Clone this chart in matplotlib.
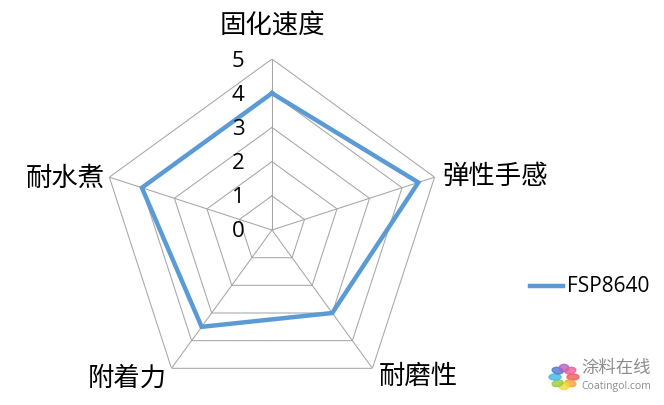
import numpy as np
import matplotlib
matplotlib.use("Agg")
import matplotlib.pyplot as plt
from matplotlib.transforms import offset_copy

plt.rcParams['font.family'] = ['Noto Sans CJK SC', 'DejaVu Sans']

categories = ['固化速度', '弹性手感', '耐磨性', '附着力', '耐水煮']
values = [4, 4.5, 3, 3.5, 4]
levels = [0, 1, 2, 3, 4, 5]
series_name = 'FSP8640'

blue = '#5B9BD5'
grid_c = '#A6A6A6'

fig = plt.figure(figsize=(6.64, 4.05), dpi=100)
ax = fig.add_axes([0.1521, 0.0099, 0.515, 0.8444], projection='polar')
ax.set_theta_offset(np.pi / 2)
ax.set_theta_direction(-1)
ax.set_ylim(0, 5)
ax.grid(False)
ax.spines['polar'].set_visible(False)
ax.set_xticks([])
ax.set_yticks([])
ax.patch.set_alpha(0)

n = len(categories)
theta = np.linspace(0, 2 * np.pi, n, endpoint=False)
theta_c = np.append(theta, theta[0])

# polygon grid
for lv in levels[1:]:
    ax.plot(theta_c, [lv] * (n + 1), color=grid_c, lw=0.75, zorder=1)
for t in theta:
    ax.plot([t, t], [0, 5], color=grid_c, lw=0.75, zorder=1)

# data line
ax.plot(theta_c, values + values[:1], color=blue, lw=3.2, zorder=3,
        solid_joinstyle='miter')

# radial tick labels, shifted left of the top spoke
tick_tr = offset_copy(ax.transData, fig=fig, x=-34, y=-2, units='dots')
for lv in levels:
    ax.text(0, lv, str(lv), transform=tick_tr, ha='center', va='center',
            fontsize=16, family=['Open Sans', 'DejaVu Sans'], zorder=4)

# category labels (pixel positions from top-left)
W, H = 664, 405
label_pos = [(272, 26, 'center'), (442, 176, 'left'), (418, 376, 'center'),
             (127, 378, 'center'), (65, 178, 'center')]
for name, (x, y, ha) in zip(categories, label_pos):
    fig.text(x / W, 1 - y / H, name, ha=ha, va='center', fontsize=19)

# legend
fig.add_artist(plt.Line2D([530 / W, 563 / W], [1 - 286 / H] * 2, color=blue, lw=3.2))
fig.text(567 / W, 1 - 286 / H, series_name, ha='left', va='center', fontsize=15,
         family=['Open Sans', 'DejaVu Sans'])

# watermark
fig.text(581 / W, 1 - 368 / H, '涂料在线', ha='left', va='center', fontsize=12.5, color='#8C8C8C')
fig.text(581 / W, 1 - 387 / H, 'Coatingol.com', ha='left', va='center', fontsize=7.5,
         color='#8C8C8C', family=['Open Sans', 'DejaVu Sans'])
petal_colors = ['#F15A5A', '#F7A33A', '#F5D93A', '#9CCB3B', '#3DB8E8', '#4A7BD0', '#B65FC8', '#E8609A']
for i, c in enumerate(petal_colors):
    a = 2 * np.pi * i / len(petal_colors)
    cx, cy = 564 + 9 * np.cos(a), 377 + 9 * np.sin(a)
    fig.add_artist(matplotlib.patches.Ellipse((cx / W, 1 - cy / H), 12 / W, 6 / H,
                                              angle=-np.rad2deg(a), color=c, alpha=0.8))

fig.savefig('out.png', dpi=100)
